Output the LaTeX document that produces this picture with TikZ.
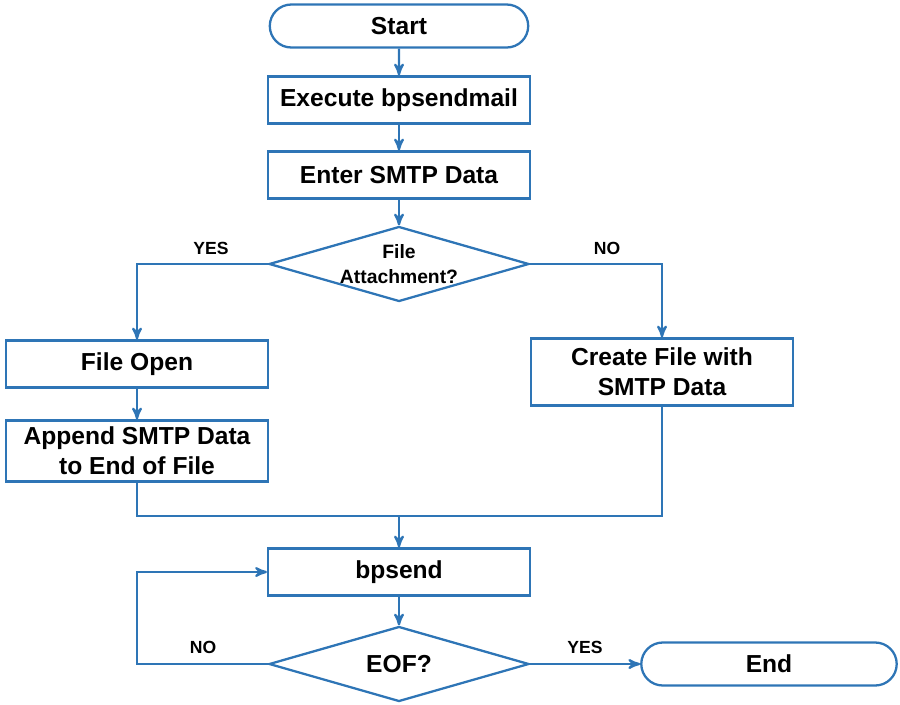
\documentclass[tikz,border=0pt]{standalone}
\usepackage{fontspec}
\setmainfont{Liberation Sans}
\usepackage{tikz}
\usetikzlibrary{arrows,shapes.geometric,shapes.misc}
\definecolor{flowblue}{RGB}{46,117,182}

\begin{document}
\begin{tikzpicture}[x=0.02cm,y=-0.02cm,->,>=stealth',line width=1.3pt,draw=flowblue,
	boxnode/.style={rectangle,draw=flowblue,text=black,align=center,minimum width=5.24cm,minimum height=0.94cm,inner sep=1pt,font=\fontsize{14}{17}\selectfont\bfseries},
	termnode/.style={rounded rectangle,draw=flowblue,text=black,minimum width=5.24cm,minimum height=0.86cm,inner sep=1pt,font=\fontsize{14}{17}\selectfont\bfseries},
	decnode/.style={diamond,draw=flowblue,minimum width=5.2cm,minimum height=1.5cm,inner sep=0pt},
	txtnode/.style={text=black,align=center,font=\fontsize{11}{14}\selectfont\bfseries},
	yesno/.style={text=black,font=\fontsize{10}{12}\selectfont\bfseries}]
	
	\useasboundingbox (0,0) rectangle (900,704);
	
	\node [termnode] (start) at (399, 26) {Start};
	\node [boxnode] (exec) at (399, 100) {Execute bpsendmail};
	\node [boxnode] (enter) at (399, 175) {Enter SMTP Data};
	\node [decnode] (attach) at (399, 264) {};
	\node [txtnode] (attachtxt) at (399, 264) {File\\Attachment?};
	\node [boxnode] (open) at (137, 364) {File Open};
	\node [boxnode, minimum height=1.22cm] (append) at (137, 451) {Append SMTP Data\\to End of File};
	\node [boxnode, minimum height=1.34cm] (create) at (662, 372) {Create File with\\SMTP Data};
	\coordinate (merge) at (399, 516);
	\node [boxnode] (bpsend) at (399, 572) {bpsend};
	\node [decnode] (eof) at (399, 664) {};
	\node [txtnode, font=\fontsize{14}{17}\selectfont\bfseries] (eoftxt) at (399, 664) {EOF?};
	\node [termnode, minimum width=5.18cm] (end) at (769, 664) {End};
	\coordinate (loop) at (137, 664);
	
	\node [yesno] (yes1) at (211, 248) {YES};
	\node [yesno] (no1) at (607, 248) {NO};
	\node [yesno] (no2) at (203, 647) {NO};
	\node [yesno] (yes2) at (585, 647) {YES};
	
	\draw (start) to (exec);
	\draw (exec) to (enter);
	\draw (enter) to (attach);
	\draw (attach) -| (open);
	\draw (attach) -| (create);
	\draw (open) to (append);
	\draw[-] (append) |- (merge);
	\draw[-] (merge) -| (create);
	\draw (merge) to (bpsend);
	\draw (bpsend) to (eof);
	\draw (eof.west) -- (loop) |- (bpsend);
	\draw (eof.east) -- (end.west);
\end{tikzpicture}
\end{document}
